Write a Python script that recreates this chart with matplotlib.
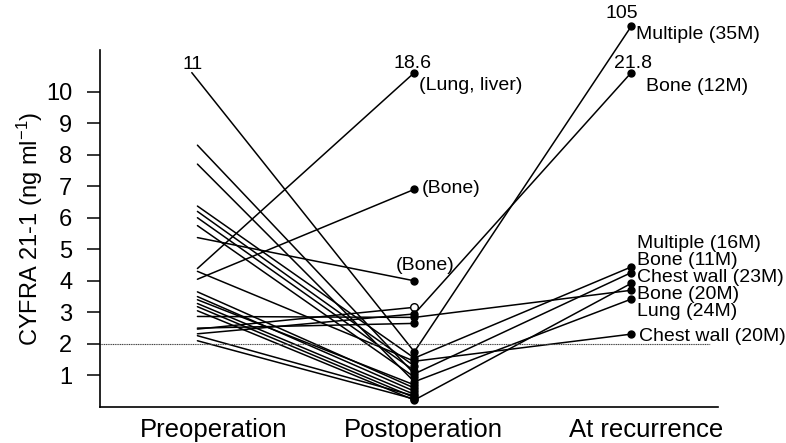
import matplotlib
matplotlib.use('Agg')
import matplotlib.pyplot as plt

plt.rcParams['font.family'] = ['Liberation Sans', 'DejaVu Sans']
plt.rcParams['mathtext.default'] = 'regular'

# categories on the x axis
stages = ['Preoperation', 'Postoperation', 'At recurrence']

# preoperative -> postoperative values (ng/ml)
preop = [10.6, 8.3, 7.7, 6.37, 6.2, 6.0, 5.75, 5.37, 4.39, 4.3, 4.05, 3.65,
         3.5, 3.4, 3.28, 3.18, 3.05, 2.87, 2.5, 2.47, 2.32, 2.26, 2.1]
postop = [1.75, 1.05, 0.8, 1.55, 1.3, 1.15, 0.95, 4.0, 10.6, 1.45, 6.9, 0.6,
          0.5, 0.7, 0.4, 0.3, 0.22, 2.84, 2.65, 3.16, 2.95, 0.35, 0.25]
open_point = 3.16  # drawn as open circle

# postoperative -> recurrence values (off-scale values drawn at the top)
rec_from = [1.75, 2.95, 2.84, 1.55, 1.05, 0.8, 0.22, 1.45]
rec_to = [12.07, 10.6, 3.70, 4.44, 4.26, 3.42, 3.92, 2.31]

# right-hand site labels (stacked list)
site_labels = ['Multiple (16M)', 'Bone (11M)', 'Chest wall (23M)',
               'Bone (20M)', 'Lung (24M)']

fig = plt.figure(figsize=(7.86, 4.43), dpi=100)
ax = fig.add_axes([0.127, 0.0813, 0.7865, 0.806])


def py(p):
    # pixel row -> data value (used for label placement only)
    return (407 - p) / 31.53


for i, (a, b) in enumerate(zip(preop, postop)):
    x0 = -0.026 if i == 0 else 0
    ax.plot([x0, 1], [a, b], color='black', lw=1.1, solid_capstyle='round')

for a, b in zip(rec_from, rec_to):
    ax.plot([1, 2], [a, b], color='black', lw=1.1, clip_on=False)

for b in postop:
    if b == open_point:
        ax.plot(1, b, 'o', ms=5.5, mfc='white', mec='black', mew=1.0, zorder=5)
    else:
        ax.plot(1, b, 'o', ms=5, color='black', zorder=5)
for b in rec_to:
    ax.plot(2, b, 'o', ms=5, color='black', zorder=5, clip_on=False)

# reference line at 2 ng/ml
ax.axhline(2, xmin=0, xmax=0.987, color='0.25', lw=0.8, ls=(0, (1, 0.6)))

# annotations
fs = 14
ax.text(-0.02, py(69), '11', ha='center', va='baseline', fontsize=fs)
ax.text(0.99, py(68), '18.6', ha='center', va='baseline', fontsize=fs)
ax.text(1.02, py(90), '(Lung, liver)', ha='left', va='baseline', fontsize=fs)
ax.text(1.034, py(193), '(Bone)', ha='left', va='baseline', fontsize=fs)
ax.text(1.05, py(270), '(Bone)', ha='center', va='baseline', fontsize=fs)
ax.text(1.957, py(18), '105', ha='center', va='baseline', fontsize=fs)
ax.text(2.021, py(39.5), 'Multiple (35M)', ha='left', va='baseline', fontsize=fs)
ax.text(2.007, py(68), '21.8', ha='center', va='baseline', fontsize=fs)
ax.text(2.067, py(91.5), 'Bone (12M)', ha='left', va='baseline', fontsize=fs)
for lab, b in zip(site_labels, [248, 265, 281.7, 299, 315.7]):
    ax.text(2.025, py(b), lab, ha='left', va='baseline', fontsize=fs)
ax.text(2.034, py(341), 'Chest wall (20M)', ha='left', va='baseline', fontsize=fs)

ax.set_xlim(-0.45, 2.40)
ax.set_ylim(0, 11.32)
# category labels sit a little right of the data columns (ticks are hidden)
ax.set_xticks([0.075, 1.04, 2.07])
ax.set_xticklabels(stages, fontsize=18.5)
ax.set_yticks(range(1, 11))
ax.tick_params(axis='y', length=9.4, width=1.1, pad=10.5, labelsize=17)
ax.tick_params(axis='x', length=0, pad=8)
ax.set_ylabel('CYFRA 21-1 (ng ml$^{-1}$)', fontsize=17, labelpad=1)

for s in ['top', 'right']:
    ax.spines[s].set_visible(False)
for s in ['left', 'bottom']:
    ax.spines[s].set_linewidth(1.2)

fig.savefig('out.png', dpi=100)
